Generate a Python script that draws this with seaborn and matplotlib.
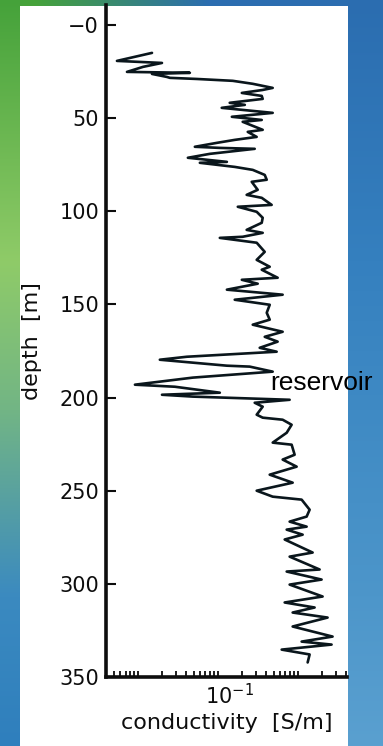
import numpy as np
import matplotlib
matplotlib.use('Agg')
import matplotlib.pyplot as plt
import matplotlib.transforms as mtransforms
from matplotlib.patches import Rectangle
from matplotlib.ticker import LogLocator, NullFormatter
import seaborn as sns

sns.set_theme(style="ticks")
plt.rcParams['font.family'] = ['DejaVu Sans']

# ------------------------------------------------------------
# well log: depth [m] and conductivity [S/m]
# ------------------------------------------------------------
depth = [15.0, 19.3, 20.4, 22.5, 25.2, 25.7, 26.3, 27.9, 28.4, 29.0,
         30.0, 31.6, 33.8, 34.9, 36.5, 38.1, 39.7, 41.8, 42.9, 44.5,
         47.2, 49.3, 51.0, 52.0, 56.3, 57.4, 60.1, 61.7, 63.3, 65.4,
         66.0, 66.5, 69.2, 71.3, 73.5, 74.0, 76.2, 77.8, 80.5, 83.1,
         84.2, 88.5, 91.2, 92.8, 96.6, 97.6, 100.3, 103.5, 106.2, 110.0,
         111.6, 113.7, 114.3, 116.9, 121.8, 126.1, 129.8, 131.4, 135.7, 136.8,
         138.9, 142.1, 144.8, 147.5, 150.2, 154.5, 158.2, 160.9, 164.7, 167.4,
         170.0, 173.3, 175.4, 178.1, 179.7, 182.9, 183.4, 186.1, 189.3, 193.1,
         194.2, 197.4, 198.5, 199.5, 201.2, 202.8, 204.9, 209.2, 210.8, 211.9,
         214.6, 218.9, 224.2, 225.3, 230.7, 233.3, 237.1, 241.4, 245.7, 250.0,
         253.2, 254.8, 260.2, 263.9, 266.6, 269.3, 270.9, 273.6, 276.2, 283.2,
         285.4, 292.3, 293.4, 297.7, 300.4, 306.8, 310.0, 312.7, 315.4, 318.1,
         322.9, 328.3, 331.0, 332.6, 335.3, 337.9, 342.2]
conductivity = [0.0150, 0.00546, 0.0200, 0.0116, 0.00729, 0.0447, 0.0150, 0.0230, 0.0251, 0.0546,
                0.154, 0.274, 0.487, 0.365, 0.200, 0.355, 0.365, 0.141, 0.218, 0.112,
                0.487, 0.150, 0.355, 0.205, 0.365, 0.237, 0.307, 0.163, 0.0972, 0.0516,
                0.106, 0.290, 0.0794, 0.0422, 0.130, 0.0596, 0.163, 0.274, 0.387, 0.410,
                0.266, 0.316, 0.230, 0.355, 0.473, 0.178, 0.307, 0.365, 0.355, 0.230,
                0.365, 0.205, 0.106, 0.307, 0.387, 0.307, 0.447, 0.355, 0.562, 0.200,
                0.316, 0.130, 0.649, 0.163, 0.447, 0.410, 0.447, 0.274, 0.649, 0.387,
                0.562, 0.335, 0.546, 0.0410, 0.0188, 0.130, 0.251, 0.487, 0.0487, 0.00917,
                0.0290, 0.106, 0.0200, 0.0487, 0.794, 0.290, 0.365, 0.307, 0.365, 0.649,
                0.841, 0.729, 0.487, 0.841, 0.917, 0.649, 0.972, 0.447, 0.866, 0.307,
                0.487, 1.122, 1.413, 1.296, 0.794, 1.296, 0.729, 1.155, 0.688, 1.540,
                0.794, 1.884, 0.729, 1.995, 0.794, 2.054, 0.688, 1.631, 0.866, 2.371,
                0.866, 2.738, 1.122, 2.661, 0.631, 1.413, 1.334]

depth_ticks = [0, 50, 100, 150, 200, 250, 300, 350]
depth_labels = ['\u22120', '50', '100', '150', '200', '250', '300', '350']
cond_major = [0.01, 0.1, 1.0]
cond_labels = ['', r'$10^{-1}$', '']

note_text = 'reservoir'
note_depth = 192.0
note_cond = 0.45

W, H = 383, 746

# ------------------------------------------------------------
# FIGURE + BACKGROUND
# ------------------------------------------------------------
fig = plt.figure(figsize=(W / 100, H / 100), dpi=100)

bg = fig.add_axes([0, 0, 1, 1])
bg.set_axis_off()
stops = [0.0, 0.35, 0.55, 0.8, 1.0]
left_col = ['#45a23a', '#8fcb68', '#72b585', '#3b8ac0', '#2f7fbd']
right_col = ['#2b6db0', '#3580bf', '#3f8ac4', '#4d96ca', '#5aa0d0']
yy = np.linspace(0, 1, H)
lc = np.array([[np.interp(yy, stops, [matplotlib.colors.to_rgb(c)[k] for c in left_col])
                for k in range(3)]]).squeeze().T
rc = np.array([[np.interp(yy, stops, [matplotlib.colors.to_rgb(c)[k] for c in right_col])
                for k in range(3)]]).squeeze().T
t = np.clip(np.linspace(0, 1, W) * 2.2 - 0.2, 0, 1)[None, :, None]
img = lc[:, None, :] * (1 - t) + rc[:, None, :] * t
bg.imshow(img, extent=[0, 1, 0, 1], aspect='auto', origin='upper')
bg.add_patch(Rectangle((20 / W, 0), 328 / W, (H - 6) / H, color='white', lw=0))
bg.set_xlim(0, 1)
bg.set_ylim(0, 1)

# ------------------------------------------------------------
# LOG PLOT
# ------------------------------------------------------------
ax = fig.add_axes([106 / W, 69 / H, 241 / W, 672 / H])
ax.set_facecolor('none')

sns.lineplot(x=conductivity, y=depth, sort=False, estimator=None,
             color='#0a161c', linewidth=1.9, ax=ax)

ax.set_xscale('log')
ax.set_xlim(10 ** -2.4, 4.15)
ax.set_ylim(350, -10.7)

ax.set_yticks(depth_ticks, depth_labels)
ax.set_xticks(cond_major, cond_labels)
ax.xaxis.set_minor_locator(LogLocator(base=10, subs=np.arange(2, 10)))
ax.xaxis.set_minor_formatter(NullFormatter())

for side in ['top', 'right']:
    ax.spines[side].set_visible(False)
for side in ['left', 'bottom']:
    ax.spines[side].set_linewidth(2.6)
    ax.spines[side].set_color('#0d0d0d')

ax.tick_params(axis='y', direction='in', length=7.5, width=1.5, pad=5,
               labelsize=15, colors='#0d0d0d')
ax.tick_params(axis='x', which='both', direction='in', length=4.2, width=1.3,
               pad=4, labelsize=15, colors='#0d0d0d')

# nudge the single x label so "10" sits over its tick
shift = mtransforms.ScaledTranslation(12 / 100, 0, fig.dpi_scale_trans)
for lab in ax.get_xticklabels():
    lab.set_transform(lab.get_transform() + shift)

ax.set_xlabel('conductivity  [S/m]', fontsize=16, labelpad=4, color='#0d0d0d')
ax.set_ylabel('depth  [m]', fontsize=16, color='#0d0d0d')
ax.yaxis.set_label_coords(-0.267, 0.5)

ax.text(note_cond, note_depth, note_text, fontsize=19, family='Liberation Sans',
        ha='left', va='center', color='black', clip_on=False)

plt.savefig('out.png', dpi=100)
plt.close()
